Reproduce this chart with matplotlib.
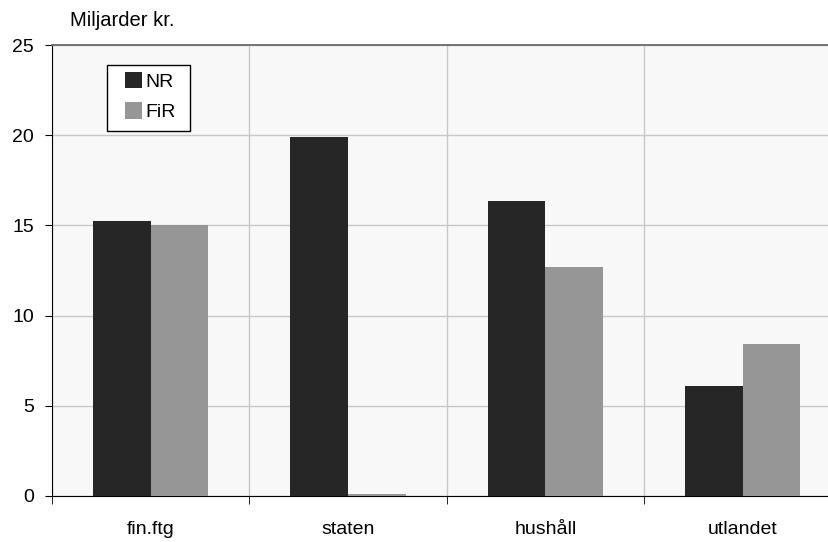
import matplotlib
matplotlib.use("Agg")
import matplotlib.pyplot as plt
from matplotlib.patches import Rectangle
import numpy as np

plt.rcParams['font.family'] = ['Liberation Sans', 'DejaVu Sans']

# data
categories = ["fin.ftg", "staten", "hushåll", "utlandet"]
nr = [15.25, 19.9, 16.35, 6.1]
fir = [15.0, 0.12, 12.7, 8.4]

x = np.arange(len(categories))
w = 0.292

W, H = 829, 542
fig = plt.figure(figsize=(W/100, H/100), dpi=100)
ax = fig.add_axes([52/W, 1 - 496/H, (W - 52)/W, (496 - 45)/H])
ax.set_facecolor("#f8f8f8")

ax.bar(x - w/2, nr, w, color="#262626", label="NR", zorder=3)
ax.bar(x + w/2, fir, w, color="#969696", label="FiR", zorder=3)

ax.set_yticks([0, 5, 10, 15, 20, 25])
ax.set_xticks(x)
ax.set_xticklabels(categories)
ax.set_xticks(np.arange(len(categories)) - 0.5, minor=True)
# limits after the ticks, the plot runs off the right edge like the original
ax.set_xlim(-0.5, -0.5 + 777/197.3)
ax.set_ylim(0, 25)
ax.tick_params(axis="x", which="major", length=0, pad=18, labelsize=14)
ax.tick_params(axis="x", which="minor", length=6, direction="out")
ax.tick_params(axis="y", length=5, direction="out", labelsize=14, pad=8)

ax.grid(True, axis="y", color="#c8c8c8", linewidth=1, zorder=0)
ax.grid(True, axis="x", which="minor", color="#c8c8c8", linewidth=1, zorder=0)

ax.spines["right"].set_visible(False)
ax.spines["top"].set_color("#6a6a6a")
ax.spines["top"].set_linewidth(1.3)
ax.spines["left"].set_color("black")
ax.spines["bottom"].set_color("black")

fig.text(70/W, 1 - 21/H, "Miljarder kr.", fontsize=14.5, va="center", ha="left")

# legend frame drawn separately so its padding matches the reference
def ax_frac(px, py):
    return (px - 52) / 777, (496 - py) / 451

x0, y0 = ax_frac(107, 131)
x1, y1 = ax_frac(190, 65)
ax.add_patch(Rectangle((x0, y0), x1 - x0, y1 - y0, transform=ax.transAxes,
                       facecolor="white", edgecolor="black", linewidth=1, zorder=5))

leg = ax.legend(loc="upper left", bbox_to_anchor=ax_frac(125, 72),
                fontsize=14, frameon=False,
                handlelength=0.9, handleheight=0.9, handletextpad=0.15,
                labelspacing=0.6, borderpad=0, borderaxespad=0)
leg.set_zorder(6)

fig.savefig("out.png", dpi=100)
